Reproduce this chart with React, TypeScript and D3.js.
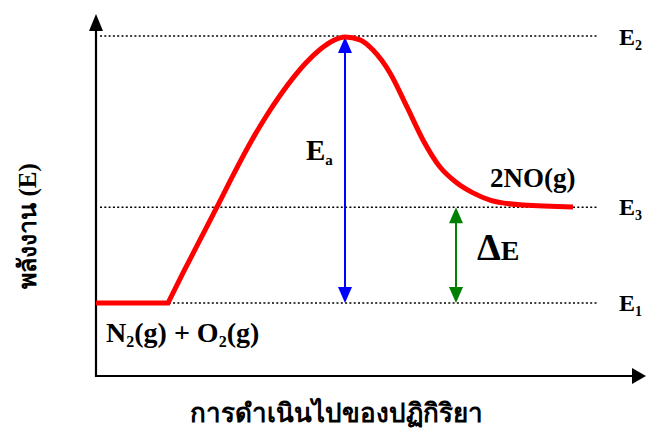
import React from "react";
import * as d3 from "d3";

const W = 646;
const H = 430;

// reaction progress (0-100) and energy (E1 = 0, E2 = 100)
const progress = [0, 14.4, 17.4, 20.8, 24.2, 27.4, 31.1, 34.1, 36.8, 39.5, 42.1, 44.8, 47.5, 49.8, 52.8, 55.4, 58.8, 62.2, 65.4, 68.8, 72.2, 75.4, 78.8, 85.4, 95.4];
const energy = [0, 0, 11.3, 23.7, 36.1, 48.0, 61.0, 70.4, 78.0, 84.8, 90.5, 95.3, 98.7, 100, 98.9, 95.1, 86.5, 73.7, 61.3, 51.1, 45.1, 41.4, 38.7, 36.8, 36.1];

const levels = [
  { name: "E", sub: "2", value: 100 },
  { name: "E", sub: "3", value: 36 },
  { name: "E", sub: "1", value: 0 },
];
const peakX = 49.8;
const deltaX = 72;

const FONT = "'Liberation Serif', 'Times New Roman', serif";

export default function App() {
  const x = d3.scaleLinear().domain([0, 100]).range([96, 596]);
  const y = d3.scaleLinear().domain([0, 100]).range([303, 37]);

  const pts: [number, number][] = progress.map((p, i) => [x(p), y(energy[i])]);
  const curve = d3.line().curve(d3.curveMonotoneX)(pts.slice(1)) || "";
  const path = `M${pts[0][0]},${pts[0][1]}` + curve.replace(/^M/, "L");

  const axisX = 96;
  const axisY = 376;

  const dbl = (cx: number, y1: number, y2: number, color: string) => (
    <g>
      <line x1={cx} x2={cx} y1={y1 + 14} y2={y2 - 14} stroke={color} strokeWidth={2} />
      <path d={`M${cx},${y1} L${cx - 7},${y1 + 16} L${cx + 7},${y1 + 16} Z`} fill={color} />
      <path d={`M${cx},${y2} L${cx - 7},${y2 - 16} L${cx + 7},${y2 - 16} Z`} fill={color} />
    </g>
  );

  return (
    <svg width={W} height={H} style={{ position: "absolute", left: 0, top: 0, background: "#fff" }}>
      {/* dotted level lines */}
      {levels.map((l) => (
        <line key={l.sub} x1={100} x2={598} y1={y(l.value) - (l.value === 100 ? 1 : 0)} y2={y(l.value) - (l.value === 100 ? 1 : 0)}
          stroke="#000" strokeWidth={1.3} strokeDasharray="2,2.3" />
      ))}

      {/* axes */}
      <line x1={axisX} x2={axisX} y1={axisY + 1} y2={28} stroke="#000" strokeWidth={2.2} />
      <path d={`M${axisX},14 L${axisX - 7},31 L${axisX + 7},31 Z`} fill="#000" />
      <line x1={axisX - 1} x2={634} y1={axisY} y2={axisY} stroke="#000" strokeWidth={2.2} />
      <path d={`M646,${axisY} L632,${axisY - 8} L632,${axisY + 8} Z`} fill="#000" />

      {/* arrows */}
      {dbl(x(peakX), y(100), y(0), "#0000ff")}
      {dbl(x(deltaX), y(36), y(0), "#008000")}

      {/* energy curve */}
      <path d={path} fill="none" stroke="#ff0000" strokeWidth={5} strokeLinejoin="miter" />

      {/* level labels */}
      {levels.map((l) => (
        <text key={l.sub} x={619} y={y(l.value) + 8} fontFamily={FONT} fontWeight="bold" fontSize={24} fill="#000">
          {l.name}
          <tspan fontSize={14} dy={5}>{l.sub}</tspan>
        </text>
      ))}

      <text x={306} y={160} fontFamily={FONT} fontWeight="bold" fontSize={29} fill="#000">
        E<tspan fontSize={15} dy={5}>a</tspan>
      </text>

      <text x={490} y={187} fontFamily={FONT} fontWeight="bold" fontSize={27} fill="#000">2NO(g)</text>

      <text x={477} y={260} fontFamily={FONT} fontWeight="bold" fill="#000">
        <tspan fontSize={38}>Δ</tspan>
        <tspan fontSize={28}>E</tspan>
      </text>

      <text x={106} y={342} fontFamily={FONT} fontWeight="bold" fontSize={28} fill="#000">
        N<tspan fontSize={16} dy={5}>2</tspan><tspan dy={-5}>(g) + O</tspan><tspan fontSize={16} dy={5}>2</tspan><tspan dy={-5}>(g)</tspan>
      </text>

      <text transform="translate(36,226) rotate(-90)" textAnchor="middle" fontFamily={FONT} fontWeight="bold" fontSize={25} fill="#000">
        พลังงาน (E)
      </text>

      <text x={336} y={422} textAnchor="middle" fontFamily={FONT} fontWeight="bold" fontSize={26} fill="#000">
        การดำเนินไปของปฏิกิริยา
      </text>
    </svg>
  );
}
